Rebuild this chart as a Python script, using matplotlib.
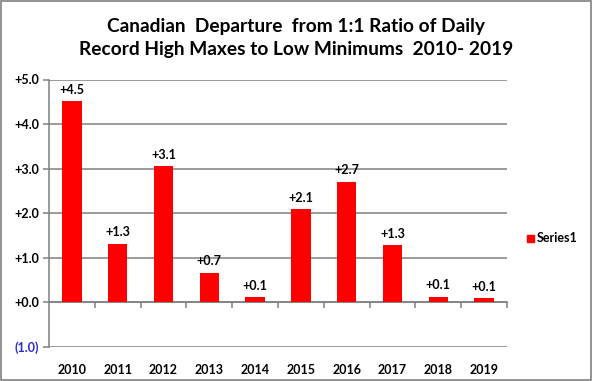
import matplotlib
matplotlib.use("Agg")
import matplotlib.pyplot as plt
from matplotlib.patches import Rectangle

years = ["2010", "2011", "2012", "2013", "2014", "2015", "2016", "2017", "2018", "2019"]
values = [4.51, 1.31, 3.05, 0.66, 0.12, 2.09, 2.71, 1.28, 0.13, 0.09]
bar_labels = ["+4.5", "+1.3", "+3.1", "+0.7", "+0.1", "+2.1", "+2.7", "+1.3", "+0.1", "+0.1"]
y_ticks = [-1, 0, 1, 2, 3, 4, 5]
y_ticklabels = ["(1.0)", "+0.0", "+1.0", "+2.0", "+3.0", "+4.0", "+5.0"]

plt.rcParams["font.family"] = ["Lato", "DejaVu Sans"]
plt.rcParams["font.weight"] = "bold"

fig = plt.figure(figsize=(5.92, 3.81), dpi=100)
ax = fig.add_axes([49 / 592, 1 - 347 / 381, 458 / 592, (347 - 79.5) / 381])

x = list(range(len(years)))
bars = ax.bar(x, values, width=0.42, color="#ff0000", zorder=3)
ax.bar_label(bars, labels=bar_labels, padding=4, fontsize=9, fontweight="bold")

ax.set_xlim(-0.5, len(years) - 0.5)
ax.set_ylim(-1, 5)

# gridlines
for y in y_ticks:
    ax.axhline(y, color="#808080", lw=1.1, zorder=1)

ax.set_yticks(y_ticks)
ax.set_yticklabels(y_ticklabels, fontsize=9, fontweight="bold")
ax.get_yticklabels()[0].set_color("#2b2bd9")
ax.tick_params(axis="y", length=4, color="#808080", width=1.1, pad=3)

# category axis crosses at zero
ax.spines["bottom"].set_position(("data", 0))
ax.spines["bottom"].set_color("#808080")
ax.spines["left"].set_color("#808080")
ax.spines["bottom"].set_linewidth(1.1)
ax.spines["left"].set_linewidth(1.1)
ax.spines["top"].set_visible(False)
ax.spines["right"].set_visible(False)
ax.set_xticks(x)
ax.set_xticklabels(years, fontsize=9, fontweight="bold")
ax.set_xticks([i + 0.5 for i in x], minor=True)
ax.tick_params(axis="x", which="major", length=0, pad=44)
ax.tick_params(axis="x", which="minor", length=4, width=1.1, color="#808080")

fig.suptitle("Canadian  Departure  from 1:1 Ratio of Daily\nRecord High Maxes to Low Minimums  2010- 2019",
             y=0.953, fontsize=13.8, fontweight="bold", linespacing=1.4)

# legend
fig.patches.append(Rectangle((527 / 592, 1 - 242 / 381), 7 / 592, 7 / 381,
                             transform=fig.transFigure, color="#ff0000", figure=fig))
fig.text(537 / 592, 1 - 238.5 / 381, "Series1", fontsize=9, fontweight="bold", va="center")

# outer border
fig.patches.append(Rectangle((0.001, 0.002), 0.997, 0.995, transform=fig.transFigure,
                             fill=False, edgecolor="#808080", lw=1.2, figure=fig))

fig.savefig("out.png", dpi=100)
